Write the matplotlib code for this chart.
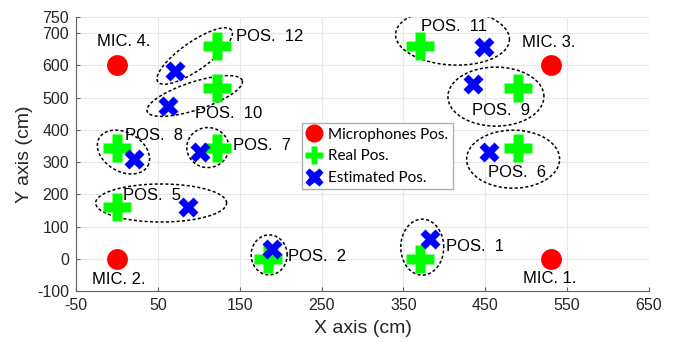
import matplotlib
matplotlib.use('Agg')
import matplotlib.pyplot as plt
import numpy as np

plt.rcParams['font.family'] = ['Liberation Sans', 'DejaVu Sans']
plt.rcParams['axes.unicode_minus'] = False

# microphones
mic_x = [530, 0, 530, 0]
mic_y = [0, 0, 600, 600]
mic_labels = ['MIC. 1.', 'MIC. 2.', 'MIC. 3.', 'MIC. 4.']

# real / estimated source positions (POS 1,2,5..12)
pos_ids = [1, 2, 5, 6, 7, 8, 9, 10, 11, 12]
real_x = [370, 185, 0, 490, 122, 0, 490, 122, 370, 122]
real_y = [0, 0, 160, 345, 345, 345, 530, 530, 660, 660]
est_x = [383, 190, 87, 455, 101, 21, 435, 62, 448, 71]
est_y = [62, 30, 161, 332, 331, 309, 542, 474, 656, 583]

x_ticks = [-50, 50, 150, 250, 350, 450, 550, 650]
y_ticks = [-100, 0, 100, 200, 300, 400, 500, 600, 700, 750]

# annotation placement
mic_lab_x = [496, -30, 495, -24]
mic_lab_y = [-60, -63, 672, 674]
pos_lab_x = [402, 209, 7, 453, 142, 10, 434, 95, 371, 145]
pos_lab_y = [37, 8, 195, 267, 350, 381, 461, 452, 722, 690]
# ellipses: centre in data units, width/height in pixels, angle in degrees
ell_cx = [373, 186, 54, 484, 111, 8, 463, 95, 410, 95]
ell_cy = [36, 12, 173, 309, 345, 331, 503, 505, 688, 629]
ell_w = [43, 36, 131, 93, 42, 56, 96, 100, 114, 90]
ell_h = [56, 40, 38, 58, 40, 39, 59, 28, 56, 28]
ell_ang = [0, 0, 0, 0, 0, -30, 0, 18, -3, 35]

fig = plt.figure(figsize=(6.77, 3.43), dpi=100)
ax = fig.add_axes([76 / 677, 1 - 291 / 343, (649 - 76) / 677, (291 - 17) / 343])
ax.set_xlim(-50, 650)
ax.set_ylim(-100, 750)
ax.set_xticks(x_ticks)
ax.set_yticks(y_ticks)
ax.grid(True, color='#e8e8e8', lw=0.8)
ax.set_axisbelow(True)
for s in ['top', 'right']:
    ax.spines[s].set_visible(False)
for s in ['left', 'bottom']:
    ax.spines[s].set_color('#606060')
    ax.spines[s].set_linewidth(0.8)
ax.tick_params(direction='in', length=3, color='#606060', labelsize=11.5,
               labelcolor='#262626', pad=5)

# dashed ellipses
t = np.linspace(0, 2 * np.pi, 300)
for cx, cy, w, h, ang in zip(ell_cx, ell_cy, ell_w, ell_h, ell_ang):
    px, py = ax.transData.transform((cx, cy))
    th = np.radians(ang)
    ex = px + w / 2 * np.cos(t) * np.cos(th) - h / 2 * np.sin(t) * np.sin(th)
    ey = py + w / 2 * np.cos(t) * np.sin(th) + h / 2 * np.sin(t) * np.cos(th)
    d = ax.transData.inverted().transform(np.column_stack([ex, ey]))
    ax.plot(d[:, 0], d[:, 1], color='k', lw=1.1, ls=(0, (2, 1.5)), zorder=2)

h1, = ax.plot(mic_x, mic_y, 'o', color='#ff0000', ms=15, mec='none',
              ls='none', zorder=3, label='Microphones Pos.')
h2, = ax.plot(real_x, real_y, 'P', color='#00ff00', ms=20, mec='none',
              ls='none', zorder=3, label='Real Pos.')
h3, = ax.plot(est_x, est_y, 'X', color='#0000ff', ms=15, mec='none',
              ls='none', zorder=4, label='Estimated Pos.')

for lab, x, y in zip(mic_labels, mic_lab_x, mic_lab_y):
    ax.text(x, y, lab, fontsize=12, ha='left', va='center', zorder=5)
for pid, x, y in zip(pos_ids, pos_lab_x, pos_lab_y):
    ax.text(x, y, 'POS.  %d' % pid, fontsize=12, ha='left', va='center', zorder=5)

ax.set_xlabel('X axis (cm)', fontsize=14, color='#262626')
ax.set_ylabel('Y axis (cm)', fontsize=14, color='#262626')
ax.xaxis.set_label_coords(0.5, -0.105)
ax.yaxis.set_label_coords(-0.075, 0.5)

leg = fig.legend(handles=[h1, h2, h3], loc='upper left',
                 bbox_to_anchor=(302 / 677, 1 - 123 / 343),
                 prop={'family': 'Lato', 'size': 11}, fancybox=False,
                 edgecolor='#b0b0b0', framealpha=1, handlelength=1.0,
                 handletextpad=0.4, borderpad=0.3, labelspacing=0.5,
                 borderaxespad=0)
for hnd in leg.legend_handles:
    hnd.set_markersize(13)

fig.savefig('out.png', dpi=100)
